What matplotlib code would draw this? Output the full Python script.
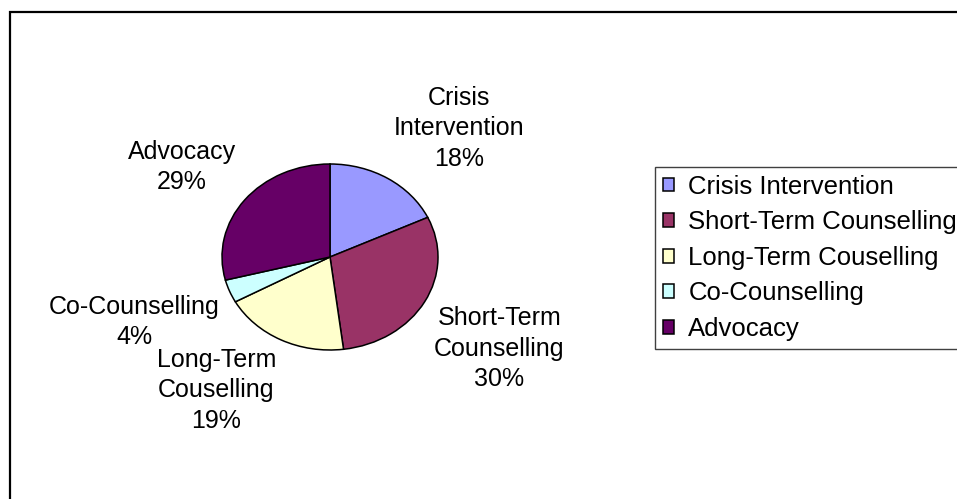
import matplotlib
matplotlib.use("Agg")
import matplotlib.pyplot as plt
from matplotlib.patches import Rectangle

categories = ["Crisis Intervention", "Short-Term Counselling", "Long-Term Couselling",
              "Co-Counselling", "Advocacy"]
percents = [18, 30, 19, 4, 29]
colors = ["#9999FF", "#993366", "#FFFFCC", "#CCFFFF", "#660066"]

plt.rcParams["font.family"] = ["Liberation Sans", "DejaVu Sans"]

W, H = 957, 499
fig = plt.figure(figsize=(W / 100, H / 100), dpi=100)

# outer chart frame (runs off right and bottom edges like the original)
fig.patches.append(Rectangle((10 / W, -0.1), 1.2, 1.1 - 12 / H, transform=fig.transFigure,
                             fill=False, edgecolor="black", linewidth=1.6))

# pie is slightly stretched horizontally, so give it a non-square axes
cx, cy, rx, ry = 330, 257, 108, 93
ax = fig.add_axes([(cx - rx) / W, (H - cy - ry) / H, 2 * rx / W, 2 * ry / H])

labels = [f"{c.replace(' ', chr(10))}\n{p}%" for c, p in zip(categories, percents)]
wedges, texts = ax.pie(percents, labels=labels, colors=colors, startangle=90,
                       counterclock=False, labeldistance=1.1,
                       wedgeprops=dict(edgecolor="black", linewidth=1.1),
                       textprops=dict(fontsize=18, linespacing=1.33))
ax.set_aspect("auto")
ax.set_xlim(-1, 1)
ax.set_ylim(-1, 1)

for t in texts:
    x, y = t.get_position()
    t.set_ha("left" if x > 0 else "right")
    t.set_va("bottom" if y > 0 else "top")
    t.set_multialignment("center")
    t.set_clip_on(False)

fig.legend(wedges, categories, loc="upper left", bbox_to_anchor=(655 / W, 1 - 167 / H),
           borderaxespad=0, fontsize=18.5, frameon=True, fancybox=False,
           edgecolor="#404040", framealpha=1, handlelength=0.45, handleheight=0.45,
           handletextpad=0.55, labelspacing=0.45, borderpad=0.3)

fig.savefig("out.png", dpi=100)
